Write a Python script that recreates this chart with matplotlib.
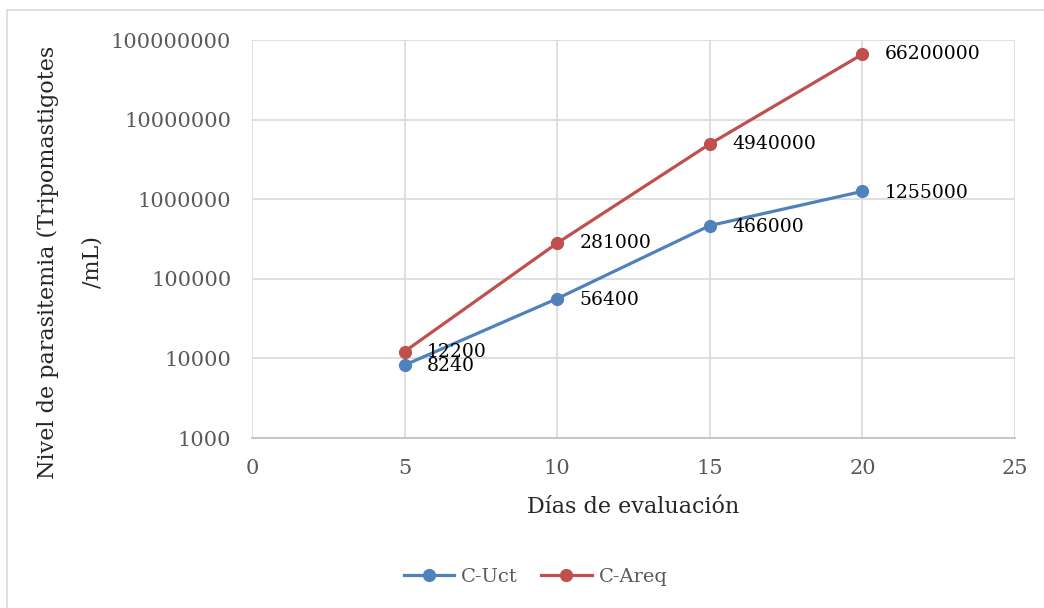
import matplotlib.pyplot as plt
from matplotlib.patches import Rectangle

plt.rcParams['font.family'] = ['DejaVu Serif']

dias = [5, 10, 15, 20]
c_uct = [8240, 56400, 466000, 1255000]
c_areq = [12200, 281000, 4940000, 66200000]
yticks = [1000, 10000, 100000, 1000000, 10000000, 100000000]

fig = plt.figure(figsize=(10.44, 6.08), dpi=100)
ax = fig.add_axes([0.2414, 0.2796, 0.7308, 0.6546])

# marco exterior del gráfico
fig.patches.append(Rectangle((0.007, -0.01), 1.0, 0.994, transform=fig.transFigure,
                             fill=False, edgecolor='#d9d9d9', linewidth=1.2))

blue = '#4f81bd'
red = '#c0504d'
ax.plot(dias, c_uct, color=blue, lw=2.3, marker='o', ms=8.5, label='C-Uct', zorder=3)
ax.plot(dias, c_areq, color=red, lw=2.3, marker='o', ms=8.5, label='C-Areq', zorder=3)

for x, y in zip(dias, c_uct):
    ax.annotate(str(y), (x, y), xytext=(16, -1), textcoords='offset points',
                va='center', ha='left', fontsize=13.5, color='black')
for x, y in zip(dias, c_areq):
    ax.annotate(str(y), (x, y), xytext=(16, 0), textcoords='offset points',
                va='center', ha='left', fontsize=13.5, color='black')

ax.set_yscale('log')
ax.set_ylim(1000, 100000000)
ax.set_xlim(0, 25)
ax.set_xticks([0, 5, 10, 15, 20, 25])
ax.set_yticks(yticks)
ax.set_yticklabels([str(v) for v in yticks])
ax.minorticks_off()
ax.tick_params(length=0, labelsize=15, labelcolor='#595959')
ax.tick_params(axis='y', pad=15)
ax.tick_params(axis='x', pad=15)

ax.grid(True, color='#d9d9d9', lw=1.2)
ax.set_axisbelow(True)
for s in ['top', 'right', 'left']:
    ax.spines[s].set_visible(False)
ax.spines['bottom'].set_color('#bfbfbf')
ax.spines['bottom'].set_linewidth(1.2)

fig.text(633 / 1044, 1 - 507 / 608, 'Días de evaluación', fontsize=16,
         color='#262626', ha='center', va='center')
fig.text(70 / 1044, 1 - 262 / 608, 'Nivel de parasitemia (Tripomastigotes\n/mL)',
         fontsize=16, color='#262626', ha='center', va='center', rotation=90,
         multialignment='center', linespacing=2.3)

fig.legend(loc='center', bbox_to_anchor=(0.513, 0.051), ncol=2, frameon=False,
           fontsize=14, labelcolor='#595959', handlelength=2.6, columnspacing=1.2,
           handletextpad=0.35)

fig.savefig('out.png', dpi=100)
